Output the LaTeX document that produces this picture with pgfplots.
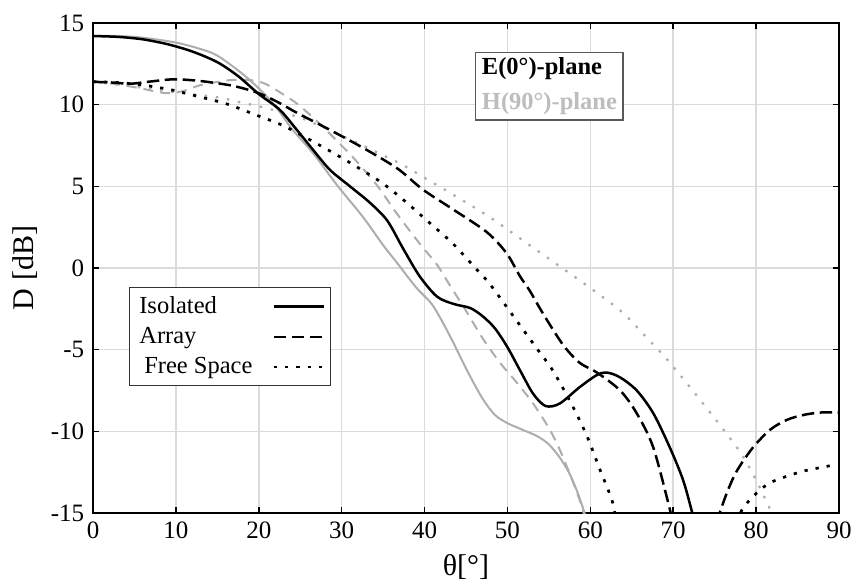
\documentclass[border=0pt]{standalone}
\usepackage{fontspec}
\setmainfont{Liberation Serif}
\usepackage{pgfplots}
\pgfplotsset{compat=1.18}

\definecolor{curvegray}{gray}{0.68}
\definecolor{gridgray}{gray}{0.86}
\definecolor{labelgray}{gray}{0.74}

\begin{document}
\begin{tikzpicture}
\begin{axis}[
    name=ax,
    scale only axis,
    width=298.4pt, height=196pt,
    xmin=0, xmax=90, ymin=-15, ymax=15,
    xtick={0,10,...,90}, ytick={-15,-10,...,15},
    grid=major,
    grid style={gridgray, line width=0.6pt},
    tick align=inside,
    major tick length=2.5pt,
    tick style={black, line width=0.6pt},
    axis line style={line width=0.9pt},
    tick label style={font=\fontsize{10}{12}\selectfont},
    /pgf/number format/assume math mode=true,
    xlabel={θ[°]},
    ylabel={D [dB]},
    label style={font=\fontsize{12}{14}\selectfont},
    xlabel style={at={(axis description cs:0.5,-0.11)}, anchor=center},
    ylabel style={at={(axis description cs:-0.0912,0.5)}, anchor=center},
    legend plot pos=right,
    legend cell align=left,
    legend style={at={(axis description cs:0.048,0.461)}, anchor=north west,
        draw=black!80, fill=white, font=\fontsize{9.8}{11}\selectfont,
        inner xsep=2pt, inner ysep=1.5pt, row sep=0pt,
        /tikz/every odd column/.append style={column sep=6pt}},
    legend image code/.code={\draw[#1] (0pt,0pt) -- (20pt,0pt);},
]

% H(90) plane, grey
\addplot[curvegray, line width=0.8pt, smooth, forget plot] coordinates {
    (0,14.2) (3,14.2) (6,14.1) (10,13.8) (13,13.4) (15,13.0) (18,11.9)
    (20.5,10.75) (22.3,9.7) (24.1,8.45) (26.6,7.0) (29.4,5.1) (32.6,3.1)
    (35,1.4) (36.7,0.3) (39,-1.2) (41,-2.3) (43.1,-4.2) (45.1,-6.25)
    (47,-8.0) (48.5,-9.0) (50,-9.5) (51.8,-9.9) (53.6,-10.3) (55,-10.8)
    (56.3,-11.6) (57.5,-12.6) (58.5,-13.8) (59.3,-15.0) (59.6,-15.6)
};
\addplot[curvegray, line width=0.8pt, dash pattern=on 4pt off 2.8pt, smooth, forget plot] coordinates {
    (0,11.4) (3,11.25) (5.7,11.0) (8.9,10.7) (11,10.85) (13,11.2) (16.5,11.5)
    (19,11.5) (20.9,11.25) (23.8,10.35) (25,9.9) (27,9.0) (29.2,7.9)
    (31.5,6.7) (34.2,5.1) (36.7,3.3) (39.4,1.5) (41.5,0.2) (43.1,-1.1)
    (45.1,-2.7) (47,-4.3) (49.1,-5.8) (51.1,-7.0) (53.1,-8.3) (55,-9.8)
    (56.2,-11.0) (57.2,-12.2) (58.2,-13.5) (59.1,-14.8) (59.3,-15.6)
};
\addplot[curvegray, line width=0.9pt, dash pattern=on 1pt off 3.5pt, smooth, forget plot] coordinates {
    (0,11.4) (5,11.1) (10,10.75) (15,10.45) (18.1,10.1) (20,9.9) (25,9.2)
    (30,8.1) (35,6.9) (37.4,6.3) (40.4,5.4) (43.4,4.5) (47.9,3.1)
    (53.5,1.1) (59.1,-0.9) (63.6,-2.6) (66.5,-4.1) (69.6,-5.8) (73.6,-8.3)
    (77.7,-11.0) (79.6,-12.6) (81.7,-14.8) (82,-15.5)
};

% E(0) plane, black
\addplot[black, line width=1pt, smooth] coordinates {
    (0,14.2) (3,14.15) (6,14.0) (9,13.7) (12,13.25) (15,12.6) (17.5,11.75)
    (20,10.65) (22.5,9.7) (24.6,8.45) (26.6,7.2) (28.6,6.0) (31,5.0)
    (33.4,4.0) (35.5,2.9) (37.4,1.2) (39.4,-0.5) (41.5,-1.75) (43.5,-2.2)
    (45.5,-2.45) (47,-2.95) (48.5,-3.7) (50,-4.85) (51.5,-6.25) (53.1,-7.7)
    (54.6,-8.45) (56.3,-8.3) (58.7,-7.3) (60.8,-6.55) (62,-6.4) (63.6,-6.7)
    (65.6,-7.5) (67.6,-8.9) (69.6,-11.0) (71.2,-13.0) (72.3,-15.0) (72.6,-15.6)
};
\addlegendentry{Isolated}
\addplot[black, line width=1pt, dash pattern=on 5pt off 2.2pt, smooth] coordinates {
    (0,11.4) (2.5,11.35) (4.5,11.28) (7,11.42) (9.7,11.55) (12.9,11.45)
    (16.9,11.15) (20,10.7) (22.5,10.1) (24.6,9.5) (28.6,8.45) (32.6,7.35)
    (36.7,6.1) (39.8,4.8) (43.4,3.6) (47.5,2.2) (49.9,0.9) (51.5,-0.5)
    (52.7,-1.4) (54.3,-2.8) (56.7,-4.7) (58.7,-5.8) (60.8,-6.4) (63.6,-7.5)
    (65.6,-8.9) (67.6,-11.0) (69.6,-14.8) (69.9,-15.6)
};
\addlegendentry{Array}
\addplot[black, line width=1.1pt, dash pattern=on 1.3pt off 3.2pt, smooth] coordinates {
    (0,11.4) (3,11.35) (6,11.2) (9.5,10.9) (12.7,10.5) (16.1,10.05)
    (19.5,9.4) (22.8,8.75) (25.8,7.95) (28.8,7.1) (31.8,6.2) (34.9,5.2)
    (37.5,4.15) (40.3,2.9) (43.4,1.5) (46.3,-0.1) (47.5,-0.75) (48.5,-1.4)
    (49.5,-2.1) (51.5,-3.5) (53.5,-4.9) (55.5,-6.3) (57.8,-8.4) (59.6,-10.3)
    (61.2,-12.4) (62.6,-14.2) (63.1,-15.5)
};
\addlegendentry{\hspace{2pt}Free Space}

% second lobes
\addplot[black, line width=1pt, dash pattern=on 5pt off 2.2pt, smooth, forget plot] coordinates {
    (75.3,-15.6) (75.6,-15.0) (76.6,-13.6) (77.7,-12.4) (79.6,-11.0)
    (81.7,-9.9) (83.7,-9.3) (85.7,-9.0) (87.7,-8.85) (90,-8.85)
};
\addplot[black, line width=1.1pt, dash pattern=on 1.3pt off 3.2pt, smooth, forget plot] coordinates {
    (77.6,-15.6) (78.3,-14.8) (79.6,-14.0) (81.5,-13.2) (83.7,-12.75)
    (86,-12.4) (89,-12.1)
};

\node[anchor=north west, draw=black!65, line width=0.6pt, fill=white, align=left,
      inner xsep=2.5pt, inner ysep=2pt, font=\fontsize{9.8}{14}\selectfont\bfseries]
    at (axis description cs:0.512,0.941) {E(0°)-plane\\\textcolor{labelgray}{H(90°)-plane}};
\end{axis}
\pgfresetboundingbox
\path[use as bounding box] ([xshift=-37.2pt,yshift=-28pt]ax.south west)
    rectangle ([xshift=5.6pt,yshift=9.2pt]ax.north east);
\end{tikzpicture}
\end{document}
